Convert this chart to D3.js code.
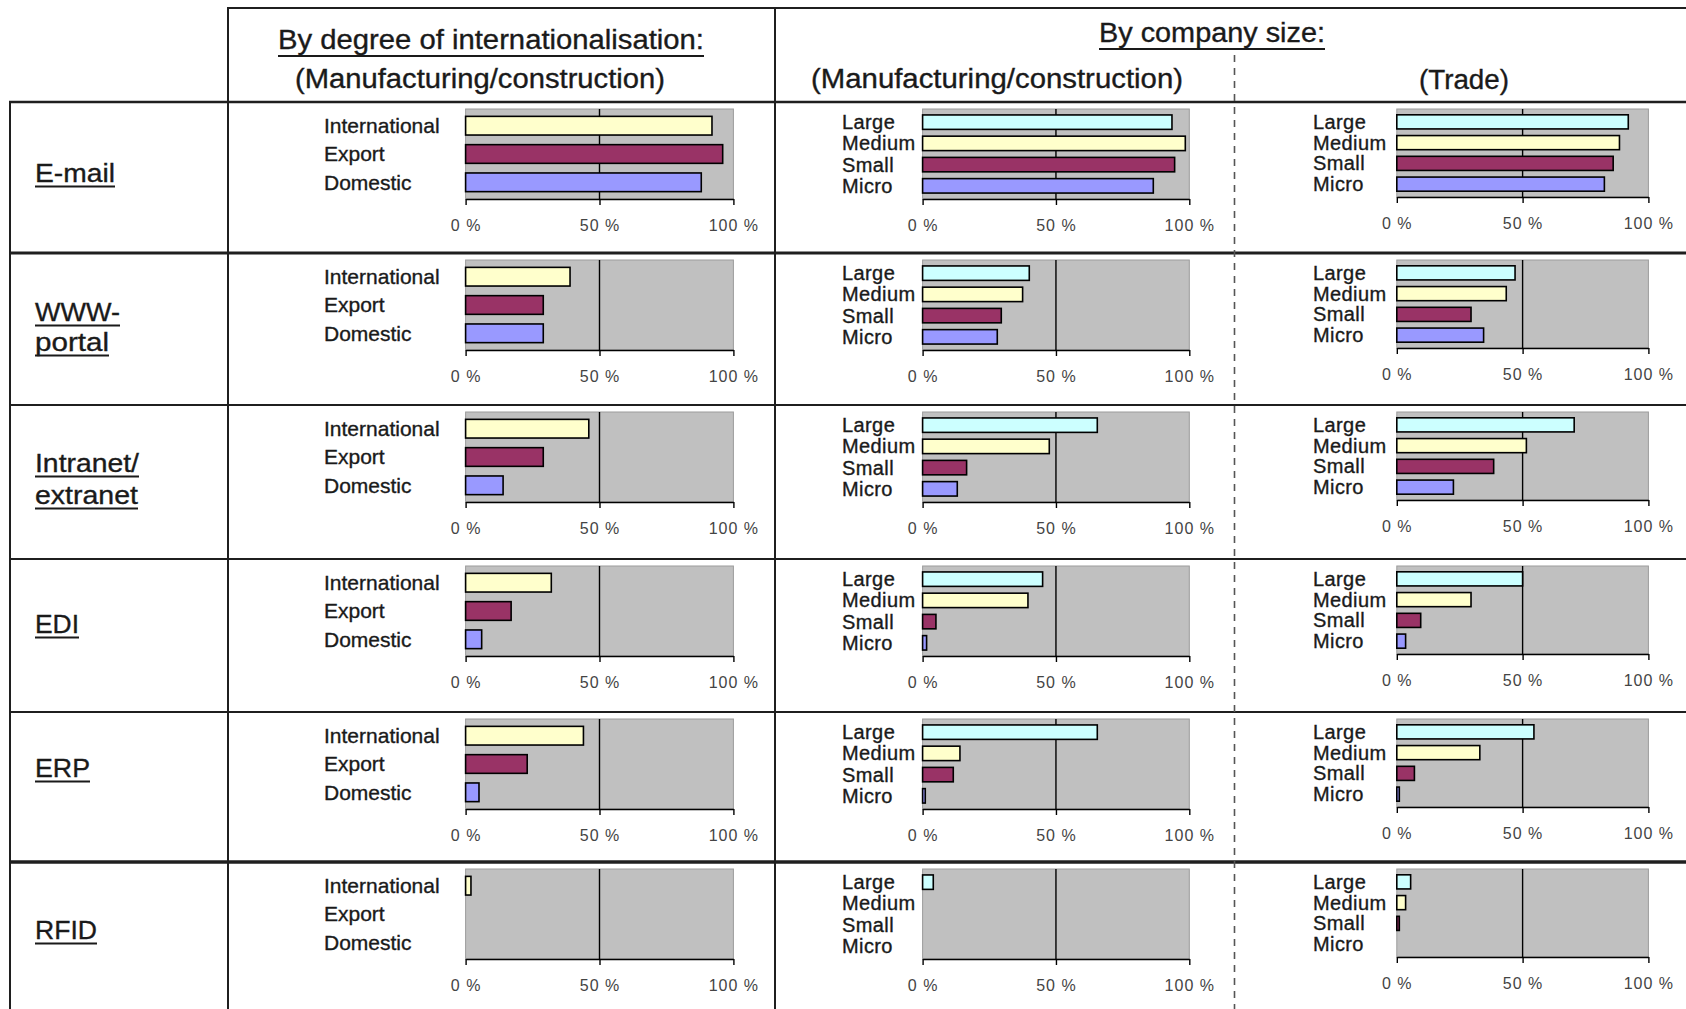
<!DOCTYPE html>
<html>
<head>
<meta charset="utf-8">
<script src="https://cdn.jsdelivr.net/npm/d3@7"></script>
<style>
  html, body { margin: 0; padding: 0; background: #ffffff; }
  svg { display: block; }
</style>
</head>
<body>
<svg id="chart" width="1686" height="1009"></svg>
<script>
// ------------------------------------------------------------------
// DATA (in percent)
// ------------------------------------------------------------------
const technologies = ["E-mail", "WWW-portal", "Intranet/extranet", "EDI", "ERP", "RFID"];
const technologyLabelLines = [["E-mail"], ["WWW-", "portal"], ["Intranet/", "extranet"], ["EDI"], ["ERP"], ["RFID"]];

const intlCategories = ["International", "Export", "Domestic"];
const sizeCategories = ["Large", "Medium", "Small", "Micro"];

// By degree of internationalisation (Manufacturing/construction): [International, Export, Domestic]
const intlManufValues = [
  [92, 96, 88],
  [39, 29, 29],
  [46, 29, 14],
  [32, 17, 6],
  [44, 23, 5],
  [2, 0, 0]
];

// By company size (Manufacturing/construction): [Large, Medium, Small, Micro]
const sizeManufValues = [
  [93.5, 98.5, 94.5, 86.5],
  [40, 37.5, 29.5, 28],
  [65.5, 47.5, 16.5, 13],
  [45, 39.5, 5, 1.5],
  [65.5, 14, 11.5, 1],
  [4, 0, 0, 0]
];

// By company size (Trade): [Large, Medium, Small, Micro]
const sizeTradeValues = [
  [92, 88.5, 86, 82.5],
  [47, 43.5, 29.5, 34.5],
  [70.5, 51.5, 38.5, 22.5],
  [50, 29.5, 9.5, 3.5],
  [54.5, 33, 7, 1],
  [5.5, 3.5, 1, 0]
];

const tickValues = [0, 50, 100];
const tickLabels = ["0 %", "50 %", "100 %"];

const headerTitles = ["By degree of internationalisation:", "By company size:"];
const headerSubtitles = ["(Manufacturing/construction)", "(Manufacturing/construction)", "(Trade)"];

const categoryColors = {
  "International": "#FFFFCC",
  "Export": "#993366",
  "Domestic": "#9999FF",
  "Large": "#CCFFFF",
  "Medium": "#FFFFCC",
  "Small": "#993366",
  "Micro": "#9999FF"
};

// ------------------------------------------------------------------
// LAYOUT
// ------------------------------------------------------------------
const W = 1686, H = 1009;
const FONT = "'Liberation Sans', Arial, Helvetica, sans-serif";
const INK = "#1a1a1a";

const rowTops = [102, 253, 405, 559, 712, 862];
const rowLineWidths = [2.3, 3, 2, 2, 2, 3.5];

const svg = d3.select("#chart");
svg.append("rect").attr("width", W).attr("height", H).attr("fill", "#fff");

// ---- table grid ----
const grid = svg.append("g").attr("stroke", "#1f1f1f").attr("fill", "none");
grid.append("line").attr("x1", 228).attr("x2", W).attr("y1", 8).attr("y2", 8).attr("stroke-width", 2);
rowTops.forEach((y, i) => {
  grid.append("line").attr("x1", 9).attr("x2", W).attr("y1", y).attr("y2", y)
    .attr("stroke-width", rowLineWidths[i]);
});
grid.append("line").attr("x1", 10).attr("x2", 10).attr("y1", 101).attr("y2", H).attr("stroke-width", 2);
grid.append("line").attr("x1", 228).attr("x2", 228).attr("y1", 7).attr("y2", H).attr("stroke-width", 2);
grid.append("line").attr("x1", 775).attr("x2", 775).attr("y1", 7).attr("y2", H).attr("stroke-width", 2);
grid.append("line").attr("x1", 1234.5).attr("x2", 1234.5).attr("y1", 55).attr("y2", H)
  .attr("stroke", "#555").attr("stroke-width", 1.6).attr("stroke-dasharray", "7,6");

// ---- helper for stretched text with optional underline ----
function fittedText(parent, txt, x, baseline, width, size, underline, ulOffset) {
  parent.append("text")
    .attr("x", x).attr("y", baseline)
    .attr("font-family", FONT).attr("font-size", size)
    .attr("fill", INK).attr("stroke", INK).attr("stroke-width", 0.35)
    .attr("textLength", width).attr("lengthAdjust", "spacingAndGlyphs")
    .text(txt);
  if (underline) {
    parent.append("line")
      .attr("x1", x).attr("x2", x + width)
      .attr("y1", baseline + ulOffset).attr("y2", baseline + ulOffset)
      .attr("stroke", INK).attr("stroke-width", 2);
  }
}

// ---- headers ----
const head = svg.append("g");
const titleSpecs = [
  { x: 278, baseline: 49, width: 426 },
  { x: 1099, baseline: 42, width: 226 }
];
headerTitles.forEach((t, i) => {
  const s = titleSpecs[i];
  fittedText(head, t, s.x, s.baseline, s.width, 27, true, 7);
});
const subSpecs = [
  { x: 295, baseline: 88, width: 370 },
  { x: 811, baseline: 88, width: 372 },
  { x: 1419, baseline: 89, width: 90 }
];
headerSubtitles.forEach((t, i) => {
  const s = subSpecs[i];
  fittedText(head, t, s.x, s.baseline, s.width, 27, false, 0);
});

// ---- row labels ----
const rowLabelSpecs = [
  [{ b: 182, w: 80 }],
  [{ b: 321, w: 85 }, { b: 351, w: 74 }],
  [{ b: 472, w: 104 }, { b: 504, w: 103 }],
  [{ b: 633, w: 44 }],
  [{ b: 777, w: 55 }],
  [{ b: 939, w: 62 }]
];
const labelsG = svg.append("g");
technologyLabelLines.forEach((lines, r) => {
  lines.forEach((ln, j) => {
    const s = rowLabelSpecs[r][j];
    fittedText(labelsG, ln, 35, s.b, s.w, 26, true, 4.5);
  });
});

// ---- panels ----
const panels = [
  { values: intlManufValues, cats: intlCategories, x0: 465.6, x1: 733.4, labelX: 324, labelSize: 21,
    topOff: 7, botOff: 97, pI: 0.34, pO: 0.26 },
  { values: sizeManufValues, cats: sizeCategories, x0: 922.6, x1: 1189.3, labelX: 842, labelSize: 20,
    topOff: 7, botOff: 97, pI: 0.32, pO: 0.28 },
  { values: sizeTradeValues, cats: sizeCategories, x0: 1396.8, x1: 1648.4, labelX: 1313, labelSize: 20,
    topOff: 7, botOff: 95, pI: 0.32, pO: 0.28 }
];

technologies.forEach((tech, r) => {
  panels.forEach(p => {
    const top = rowTops[r] + p.topOff;
    const bottom = rowTops[r] + p.botOff;
    const x = d3.scaleLinear().domain([0, 100]).range([p.x0, p.x1]);
    const y = d3.scaleBand().domain(p.cats).range([top, bottom])
      .paddingInner(p.pI).paddingOuter(p.pO);
    const g = svg.append("g").attr("class", "panel");

    // plot area
    g.append("rect")
      .attr("x", x(0)).attr("y", top)
      .attr("width", x(100) - x(0)).attr("height", bottom - top)
      .attr("fill", "#C0C0C0").attr("stroke", "#9c9c9c").attr("stroke-width", 1);

    // gridline at 50 %
    g.append("line")
      .attr("x1", x(50)).attr("x2", x(50))
      .attr("y1", top).attr("y2", bottom)
      .attr("stroke", "#000").attr("stroke-width", 1.4);

    // bars
    const rows = p.cats.map((c, i) => ({ cat: c, v: p.values[r][i] })).filter(d => d.v > 0);
    g.selectAll("rect.bar").data(rows).enter().append("rect")
      .attr("class", "bar")
      .attr("x", x(0))
      .attr("y", d => y(d.cat))
      .attr("width", d => x(d.v) - x(0))
      .attr("height", y.bandwidth())
      .attr("fill", d => categoryColors[d.cat])
      .attr("stroke", "#000").attr("stroke-width", 1.6);

    // category labels
    g.selectAll("text.cat").data(p.cats).enter().append("text")
      .attr("class", "cat")
      .attr("x", p.labelX)
      .attr("y", d => y(d) + y.bandwidth() / 2)
      .attr("dy", "0.35em")
      .attr("font-family", FONT).attr("font-size", p.labelSize)
      .attr("letter-spacing", p.labelSize === 20 ? 0.4 : 0)
      .attr("fill", INK).attr("stroke", INK).attr("stroke-width", 0.35)
      .text(d => d);

    // x axis
    const axis = d3.axisBottom(x)
      .tickValues(tickValues)
      .tickFormat((d, i) => tickLabels[i])
      .tickSizeInner(6).tickSizeOuter(0)
      .tickPadding(14.5);
    const ag = g.append("g").attr("transform", `translate(0,${bottom})`).call(axis);
    ag.select(".domain").attr("stroke", "#000").attr("stroke-width", 1.6);
    ag.selectAll(".tick line").attr("stroke", "#000").attr("stroke-width", 1.4);
    ag.selectAll(".tick text")
      .attr("font-family", FONT).attr("font-size", 16)
      .attr("letter-spacing", 1)
      .attr("fill", "#444");
  });
});
</script>
</body>
</html>
